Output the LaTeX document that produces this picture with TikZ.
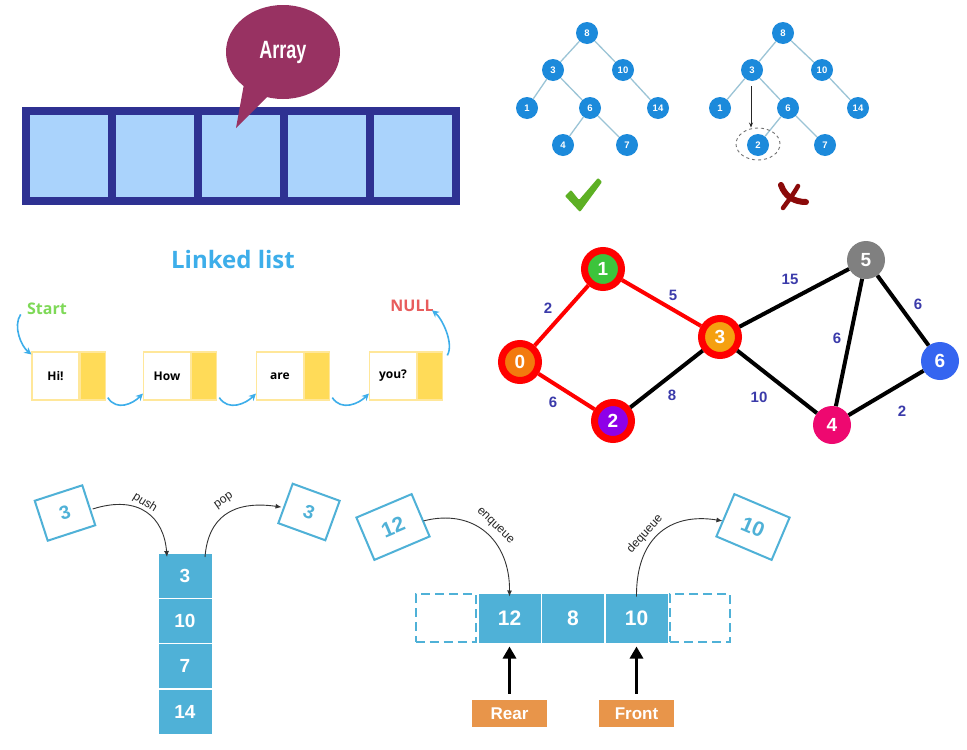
\documentclass[tikz,border=0pt]{standalone}
\usepackage{fontspec}
\setmainfont{Liberation Sans}
\newfontfamily\osans{Open Sans}
\usetikzlibrary{arrows.meta,shapes.geometric}
\newcommand\setfs[1]{\fontsize{#1}{#1}\selectfont}
\definecolor{arrdark}{HTML}{2E3192}
\definecolor{arrlight}{HTML}{AAD3FC}
\definecolor{bubble}{HTML}{983262}
\definecolor{treeblue}{HTML}{1C8ADB}
\definecolor{treeedge}{HTML}{9BC4D6}
\definecolor{llblue}{HTML}{3DAEEA}
\definecolor{startgreen}{HTML}{7ED957}
\definecolor{nullred}{HTML}{E85D5D}
\definecolor{llyellow}{HTML}{FFDB58}
\definecolor{llborder}{HTML}{FFE79A}
\definecolor{qblue}{HTML}{4FB1D7}
\definecolor{qorange}{HTML}{E8954A}
\definecolor{wcol}{HTML}{3B3BAA}
\definecolor{checkgreen}{HTML}{5DB024}
\definecolor{xred}{HTML}{8B0A0A}
\definecolor{gzero}{HTML}{F27A0E}
\definecolor{gone}{HTML}{3CC43C}
\definecolor{gtwo}{HTML}{8E00E8}
\definecolor{gthree}{HTML}{F5A010}
\definecolor{gfour}{HTML}{EE0870}
\definecolor{gfive}{HTML}{808080}
\definecolor{gsix}{HTML}{3565F0}
\begin{document}
\begin{tikzpicture}[x=1pt,y=-1pt,
  acell/.style={fill=arrlight, minimum width=78, minimum height=82, inner sep=0},
  tn/.style={circle, fill=treeblue, minimum size=22, inner sep=0, text=white, font=\bfseries\setfs{9.5}},
  tedge/.style={draw=treeedge, line width=1.3},
  gring/.style={circle, draw=red, line width=7, minimum size=37, inner sep=0, text=white, font=\bfseries\setfs{19}},
  gplain/.style={circle, minimum size=38, inner sep=0, text=white, font=\bfseries\setfs{19}},
  redge/.style={draw=red, line width=4},
  bedge/.style={draw=black, line width=4},
  wlab/.style={text=wcol, font=\bfseries\setfs{15}},
  lwhite/.style={draw=llborder, line width=1.2, fill=white, minimum width=47, minimum height=48, inner sep=0, font=\osans\bfseries\setfs{12}},
  lyel/.style={draw=llborder, line width=1.2, fill=llyellow, minimum width=25, minimum height=48, inner sep=0},
  llarrow/.style={draw=llblue, line width=1.6, -{Stealth[length=7pt,width=7pt]}},
  tilt/.style={draw=qblue, line width=2, fill=white, inner sep=0, text=qblue, font=\bfseries\setfs{19}},
  scell/.style={fill=qblue, draw=white, line width=1, minimum width=54, minimum height=45, inner sep=0, text=white, font=\bfseries\setfs{19}},
  qcell/.style={fill=qblue, draw=white, line width=1, minimum width=63, minimum height=50, inner sep=0, text=white, font=\bfseries\setfs{21}},
  qdash/.style={draw=qblue, line width=2, dash pattern=on 9pt off 5pt, minimum width=60, minimum height=48, inner sep=0},
  conn/.style={draw=black!80, line width=0.9, -{Latex[length=6pt,width=5pt]}},
  oplab/.style={font=\setfs{12}, text=black!85, inner sep=1pt},
  tag/.style={fill=qorange, minimum width=75, minimum height=27, inner sep=0, text=white, font=\bfseries\setfs{17}},
  thick arrow/.style={draw=black, line width=3, -{Triangle[length=12pt,width=13pt]}}
]
\useasboundingbox (0,0) rectangle (967,750);
\fill[white] (0,0) rectangle (967,750);

% ---------- Array ----------
\node[fill=arrdark, minimum width=438, minimum height=98, inner sep=0] (arr) at (241,156) {};
\node[acell] (a1) at (69,156) {};
\node[acell] (a2) at (155,156) {};
\node[acell] (a3) at (241,156) {};
\node[acell] (a4) at (327,156) {};
\node[acell] (a5) at (413,156) {};
\fill[bubble] (244,84) -- (236,128) -- (270,94) -- cycle;
\node[ellipse, fill=bubble, minimum width=114, minimum height=94, inner sep=0, text=white, font=\bfseries\setfs{25}] (bub) at (283,52) {\scalebox{0.72}[1]{Array}};

% ---------- Binary trees ----------
\node[tn] (L8) at (587,33) {8};
\node[tn] (L3) at (553,70) {3};
\node[tn] (L10) at (623,70) {10};
\node[tn] (L1) at (527,108) {1};
\node[tn] (L6) at (590,108) {6};
\node[tn] (L14) at (658,108) {14};
\node[tn] (L4) at (563,145) {4};
\node[tn] (L7) at (627,145) {7};
\draw[tedge] (L8) -- (L3); \draw[tedge] (L8) -- (L10);
\draw[tedge] (L3) -- (L1); \draw[tedge] (L3) -- (L6);
\draw[tedge] (L10) -- (L14);
\draw[tedge] (L6) -- (L4); \draw[tedge] (L6) -- (L7);

\node[tn] (R8) at (783,33) {8};
\node[tn] (R3) at (752,70) {3};
\node[tn] (R10) at (822,70) {10};
\node[tn] (R1) at (720,108) {1};
\node[tn] (R6) at (788,108) {6};
\node[tn] (R14) at (858,108) {14};
\node[tn] (R2) at (758,145) {2};
\node[tn] (R7) at (825,145) {7};
\draw[tedge] (R8) -- (R3); \draw[tedge] (R8) -- (R10);
\draw[tedge] (R3) -- (R1); \draw[tedge] (R3) -- (R6);
\draw[tedge] (R10) -- (R14);
\draw[tedge] (R6) -- (R2); \draw[tedge] (R6) -- (R7);
\node[ellipse, draw=black!55, dashed, line width=0.9, minimum width=44, minimum height=32, inner sep=0] (hl) at (758,144) {};
\draw[draw=black!85, line width=0.8, -{Stealth[length=5pt,width=4pt]}, shorten <=5pt] ([xshift=-1pt]R3.south) -- ([xshift=-1pt]R3.south |- hl.north);

\fill[checkgreen, rounded corners=1pt] (565,196) -- (571,190) -- (579,200) -- (598,178) -- (602,182) -- (580,212) -- cycle;
\draw[xred, line width=6, line cap=round] (781,185) .. controls (785,197) and (795,202) .. (806,202);
\draw[xred, line width=4.5, line cap=round] (798,186) .. controls (793,195) and (788,201) .. (783,208);

% ---------- Linked list ----------
\node[text=llblue, font=\osans\bfseries\setfs{24}] (lltitle) at (233,259) {Linked list};
\node[text=startgreen, font=\osans\bfseries\setfs{16}] (start) at (47,309) {Start};
\node[text=nullred, font=\osans\bfseries\setfs{16}] (null) at (412,306) {NULL};
\node[lwhite] (w1) at (55.5,376) {Hi!};
\node[lyel, anchor=west] (y1) at (w1.east) {};
\node[lwhite] (w2) at (167,376) {How};
\node[lyel, anchor=west] (y2) at (w2.east) {};
\node[lwhite] (w3) at (280,376) {are};
\node[lyel, anchor=west] (y3) at (w3.east) {};
\node[lwhite] (w4) at (393,376) {you?};
\node[lyel, anchor=west] (y4) at (w4.east) {};
\draw[llarrow] ([shift={(2pt,3pt)}]y1.south east) .. controls +(9,14) and +(-10,10) .. ([shift={(0pt,7pt)}]w2.south west);
\draw[llarrow] ([shift={(2pt,3pt)}]y2.south east) .. controls +(9,14) and +(-10,10) .. ([shift={(0pt,7pt)}]w3.south west);
\draw[llarrow] ([shift={(2pt,3pt)}]y3.south east) .. controls +(9,14) and +(-10,10) .. ([shift={(0pt,7pt)}]w4.south west);
\draw[llarrow] ([shift={(-3pt,4pt)}]start.south west) .. controls +(-8,12) and +(-10,-8) .. ([shift={(0pt,-3pt)}]w1.north west);
\draw[llarrow] ([shift={(4pt,-4pt)}]y4.north east) .. controls +(7,-12) and +(10,8) .. ([shift={(20pt,5pt)}]null.south);

% ---------- Graph ----------
\node[gring, fill=gzero] (g0) at (520,362) {0};
\node[gring, fill=gone] (g1) at (603,269) {1};
\node[gring, fill=gtwo] (g2) at (613,421) {2};
\node[gring, fill=gthree] (g3) at (720,337) {3};
\node[gplain, fill=gfive] (g5) at (866,260) {5};
\node[gplain, fill=gsix] (g6) at (940,361) {6};
\node[gplain, fill=gfour] (g4) at (832,425) {4};
\draw[redge] (g0) -- (g1);
\draw[redge] (g1) -- (g3);
\draw[redge] (g0) -- (g2);
\draw[bedge] (g2) -- (g3);
\draw[bedge] (g3) -- (g5);
\draw[bedge] (g3) -- (g4);
\draw[bedge] (g5) -- (g4);
\draw[bedge] (g5) -- (g6);
\draw[bedge] (g6) -- (g4);
\node[wlab] (w01) at (548,308) {2};
\node[wlab] (w13) at (673,295) {5};
\node[wlab] (w02) at (553,402) {6};
\node[wlab] (w23) at (672,395) {8};
\node[wlab] (w35) at (790,279) {15};
\node[wlab] (w34) at (759,397) {10};
\node[wlab] (w54) at (837,338) {6};
\node[wlab] (w56) at (918,304) {6};
\node[wlab] (w64) at (902,411) {2};

% ---------- Stack ----------
\node[tilt, rotate=18, minimum width=50, minimum height=42] (sin) at (65,513) {3};
\node[tilt, rotate=-20, minimum width=50, minimum height=42] (sout) at (309,512) {3};
\node[scell] (s1) at (185,576) {3};
\node[scell] (s2) at (185,621) {10};
\node[scell] (s3) at (185,666) {7};
\node[scell] (s4) at (185,712) {14};
\draw[conn] ([shift={(3pt,-4pt)}]sin.east) .. controls (140,494) and (164,518) .. ([xshift=-18pt, yshift=-4pt]s1.north);
\draw[conn] ([xshift=20pt, yshift=-4pt]s1.north) .. controls (208,518) and (232,500) .. ([shift={(-3pt,-4pt)}]sout.west);
\node[oplab, rotate=-32] (pushl) at (145,503) {push};
\node[oplab, rotate=35] (popl) at (224,501) {pop};

% ---------- Queue ----------
\node[qdash] (ql) at (445.5,618) {};
\node[qcell] (q12) at (509.5,618) {12};
\node[qcell] (q8) at (573,618) {8};
\node[qcell] (q10) at (636.5,618) {10};
\node[qdash] (qr) at (700,618) {};
\node[tilt, rotate=23, minimum width=60, minimum height=46, font=\bfseries\setfs{21}] (qin) at (393,527) {12};
\node[tilt, rotate=-23, minimum width=60, minimum height=46, font=\bfseries\setfs{21}] (qout) at (753,527) {10};
\draw[conn] ([shift={(2pt,-6pt)}]qin.east) .. controls (474,508) and (510,540) .. ([yshift=-4pt]q12.north);
\draw[conn] ([yshift=-4pt]q10.north) .. controls (636,540) and (668,512) .. ([shift={(-2pt,-6pt)}]qout.west);
\node[oplab, rotate=-44] (enql) at (495,526) {enqueue};
\node[oplab, rotate=48] (deql) at (645,534) {dequeue};
\node[tag] (rear) at (509.5,713.5) {Rear};
\node[tag] (front) at (636.5,713.5) {Front};
\draw[thick arrow, shorten <=6pt, shorten >=3pt] (rear.north) -- (q12.south);
\draw[thick arrow, shorten <=6pt, shorten >=3pt] (front.north) -- (q10.south);
\end{tikzpicture}
\end{document}
